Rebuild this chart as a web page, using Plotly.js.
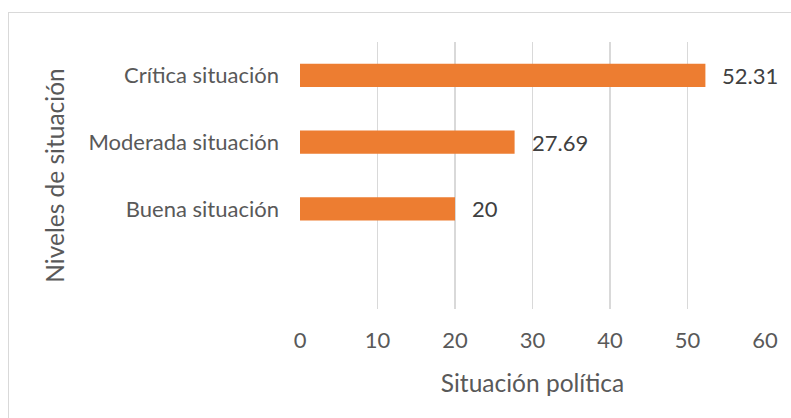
<!DOCTYPE html>
<html>
<head>
<meta charset="utf-8">
<script src="https://cdn.plot.ly/plotly-3.0.1.min.js"></script>
<style>
html,body{margin:0;padding:0;background:#fff;}
#wrap{position:relative;width:791px;height:418px;overflow:hidden;}
#chart{position:absolute;left:0;top:0;width:791px;height:418px;}
#frame{position:absolute;left:8px;top:12px;width:800px;height:420px;border-left:1px solid #d9d9d9;border-top:1px solid #d9d9d9;pointer-events:none;}
</style>
</head>
<body>
<div id="wrap"><div id="chart"></div><div id="frame"></div></div>
<script>
const categories = ['Crítica situación', 'Moderada situación', 'Buena situación', ''];
const values = [52.31, 27.69, 20, null];
const valueLabels = ['52.31', '27.69', '20', ''];
const xTicks = [0, 10, 20, 30, 40, 50, 60];
const xTitle = 'Situación política';
const yTitle = 'Niveles de situación';

const FONT = 'Lato, "Open Sans", sans-serif';
const n = categories.length;
const ypos = categories.map((c, i) => n - 1 - i);

const trace = {
  type: 'bar',
  orientation: 'h',
  x: values,
  y: ypos,
  width: 0.35,
  marker: {color: '#ED7D31'},
  hoverinfo: 'none'
};

const annotations = values.map((v, i) => v == null ? null : ({
  x: v, y: ypos[i], xref: 'x', yref: 'y',
  text: valueLabels[i], showarrow: false,
  xanchor: 'left', yanchor: 'middle', xshift: 15,
  font: {family: FONT, size: 22, color: '#404040'}
})).filter(a => a);

const layout = {
  width: 791, height: 418,
  margin: {l: 300, r: 26, t: 42, b: 109, pad: 0},
  paper_bgcolor: '#ffffff', plot_bgcolor: '#ffffff',
  showlegend: false,
  font: {family: FONT, color: '#595959', size: 22},
  xaxis: {
    range: [0, 60], tickvals: xTicks, ticktext: xTicks.map(String),
    showgrid: true, gridcolor: '#d9d9d9', gridwidth: 1.3,
    zeroline: false, showline: false, ticks: '',
    ticklabelstandoff: 16,
    tickfont: {family: FONT, size: 22, color: '#595959'},
    title: {text: xTitle, font: {family: FONT, size: 24.5, color: '#595959'}, standoff: 22},
    fixedrange: true
  },
  yaxis: {
    range: [-0.5, n - 0.5], tickvals: ypos, ticktext: categories,
    showgrid: false, zeroline: false, showline: false, ticks: '',
    ticklabelstandoff: 20,
    tickfont: {family: FONT, size: 22, color: '#595959'},
    title: {text: yTitle, font: {family: FONT, size: 24.5, color: '#595959'}, standoff: 16},
    automargin: false,
    fixedrange: true
  },
  annotations: annotations
};

Plotly.newPlot('chart', [trace], layout, {displayModeBar: false, staticPlot: true});
</script>
</body>
</html>
